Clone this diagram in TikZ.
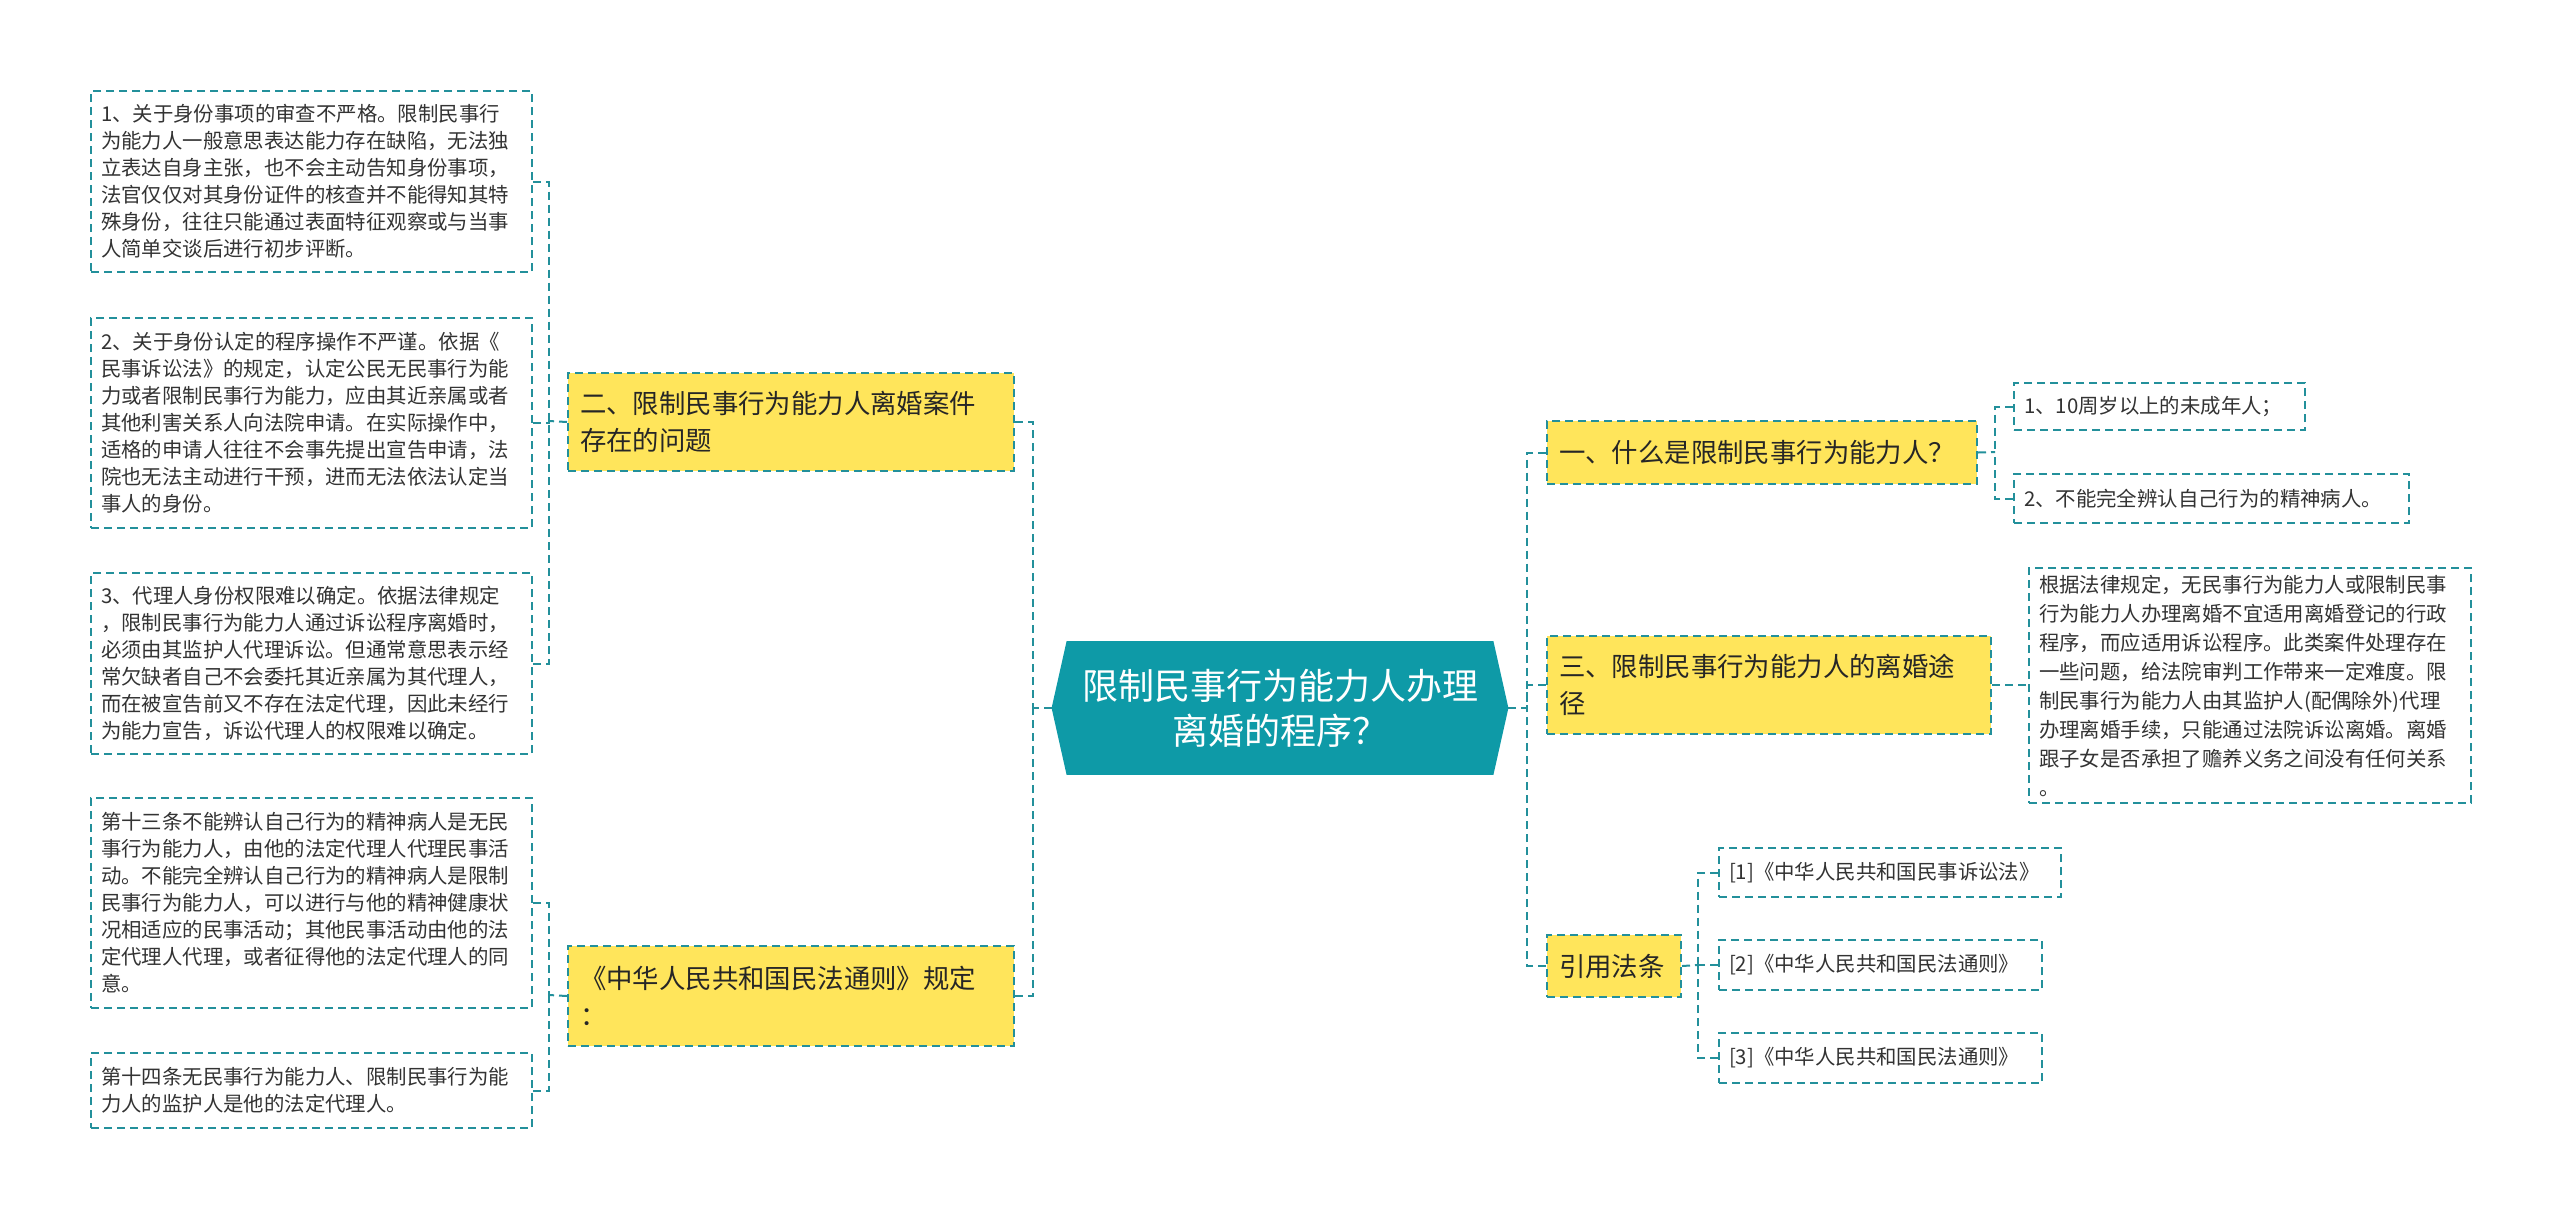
\documentclass[tikz,border=0pt]{standalone}
\usepackage{fontspec}
\setmainfont{Noto Sans CJK SC}
\definecolor{lineC}{HTML}{23909B}
\definecolor{cfill}{HTML}{0E9AA7}
\definecolor{yel}{HTML}{FFE55B}
\definecolor{txt}{HTML}{333333}
\pgfdeclarelayer{bg}
\pgfsetlayers{bg,main}
\begin{document}
\begin{tikzpicture}[x=0.5pt,y=-0.5pt,
  conn/.style={draw=lineC, line width=1pt, dash pattern=on 4pt off 2.5pt},
  leafbox/.style={draw=lineC, line width=1pt, dash pattern=on 4pt off 2.5pt, fill=white,
    anchor=north west, inner xsep=5pt, inner ysep=0pt, align=left, text=txt,
    font=\fontsize{10.2pt}{13.5pt}\selectfont},
  rleaf/.style={leafbox, font=\fontsize{10.2pt}{14.5pt}\selectfont},
  branch/.style={leafbox, fill=yel, inner xsep=6pt, text=black!85,
    font=\fontsize{13.2pt}{18.5pt}\selectfont},
  centertext/.style={draw=none, text=white, align=center, inner sep=0pt,
    minimum width=228pt, minimum height=66.5pt,
    font=\fontsize{18pt}{22.5pt}\selectfont}
]
\useasboundingbox (0,0) rectangle (2560,1217);

% ---------- center ----------
\node[centertext] (C) at (1280,708) {限制民事行为能力人办理\\离婚的程序？};
\begin{pgfonlayer}{bg}
\fill[cfill] (C.west) -- ([xshift=7.5pt]C.north west) -- ([xshift=-7.5pt]C.north east)
  -- (C.east) -- ([xshift=-7.5pt]C.south east) -- ([xshift=7.5pt]C.south west) -- cycle;
\end{pgfonlayer}

% ---------- left side ----------
\node[branch, minimum width=223pt, minimum height=49pt, text width=211pt] (Er) at (567,372)
  {二、限制民事行为能力人离婚案件\\存在的问题};
\node[branch, minimum width=223pt, minimum height=50pt, text width=211pt] (Tong) at (567,945)
  {《中华人民共和国民法通则》规定\\：};

\node[leafbox, minimum width=220.5pt, minimum height=90.5pt, text width=210.5pt] (B1) at (90,90)
  {1、关于身份事项的审查不严格。限制民事行\\为能力人一般意思表达能力存在缺陷，无法独\\立表达自身主张，也不会主动告知身份事项，\\法官仅仅对其身份证件的核查并不能得知其特\\殊身份，往往只能通过表面特征观察或与当事\\人简单交谈后进行初步评断。};
\node[leafbox, minimum width=220.5pt, minimum height=105pt, text width=210.5pt] (B2) at (90,317)
  {2、关于身份认定的程序操作不严谨。依据《\\民事诉讼法》的规定，认定公民无民事行为能\\力或者限制民事行为能力，应由其近亲属或者\\其他利害关系人向法院申请。在实际操作中，\\适格的申请人往往不会事先提出宣告申请，法\\院也无法主动进行干预，进而无法依法认定当\\事人的身份。};
\node[leafbox, minimum width=220.5pt, minimum height=90.5pt, text width=210.5pt] (B3) at (90,572)
  {3、代理人身份权限难以确定。依据法律规定\\，限制民事行为能力人通过诉讼程序离婚时，\\必须由其监护人代理诉讼。但通常意思表示经\\常欠缺者自己不会委托其近亲属为其代理人，\\而在被宣告前又不存在法定代理，因此未经行\\为能力宣告，诉讼代理人的权限难以确定。};
\node[leafbox, minimum width=220.5pt, minimum height=105pt, text width=210.5pt] (B4) at (90,797)
  {第十三条不能辨认自己行为的精神病人是无民\\事行为能力人，由他的法定代理人代理民事活\\动。不能完全辨认自己行为的精神病人是限制\\民事行为能力人，可以进行与他的精神健康状\\况相适应的民事活动；其他民事活动由他的法\\定代理人代理，或者征得他的法定代理人的同\\意。};
\node[leafbox, minimum width=220.5pt, minimum height=37.5pt, text width=210.5pt] (B5) at (90,1052)
  {第十四条无民事行为能力人、限制民事行为能\\力人的监护人是他的法定代理人。};

% ---------- right side ----------
\node[branch, minimum width=215pt, minimum height=31.5pt, text width=203pt] (Yi) at (1546,420)
  {一、什么是限制民事行为能力人？};
\node[branch, minimum width=222pt, minimum height=49pt, text width=210pt] (San) at (1546,635)
  {三、限制民事行为能力人的离婚途\\径};
\node[branch, minimum width=67pt, minimum height=31pt, text width=55pt] (Yin) at (1546,934)
  {引用法条};

\node[leafbox, minimum width=145.5pt, minimum height=23.5pt, text width=135.5pt] (Y1) at (2013,382)
  {1、10周岁以上的未成年人；};
\node[leafbox, minimum width=197.5pt, minimum height=24.5pt, text width=187.5pt] (Y2) at (2013,473)
  {2、不能完全辨认自己行为的精神病人。};
\node[rleaf, minimum width=221pt, minimum height=117.5pt, text width=211pt] (S1) at (2028,567)
  {根据法律规定，无民事行为能力人或限制民事\\行为能力人办理离婚不宜适用离婚登记的行政\\程序，而应适用诉讼程序。此类案件处理存在\\一些问题，给法院审判工作带来一定难度。限\\制民事行为能力人由其监护人(配偶除外)代理\\办理离婚手续，只能通过法院诉讼离婚。离婚\\跟子女是否承担了赡养义务之间没有任何关系\\。};
\node[leafbox, minimum width=171pt, minimum height=24.5pt, text width=161pt] (R1) at (1718,847)
  {[1]《中华人民共和国民事诉讼法》};
\node[leafbox, minimum width=161.5pt, minimum height=25pt, text width=151.5pt] (R2) at (1718,939)
  {[2]《中华人民共和国民法通则》};
\node[leafbox, minimum width=161.5pt, minimum height=25pt, text width=151.5pt] (R3) at (1718,1032)
  {[3]《中华人民共和国民法通则》};

% ---------- junctions ----------
\coordinate (tL) at (1033,708);
\coordinate (tR) at (1527,708);
\coordinate (jEr) at (549,421);
\coordinate (jTong) at (549,995);
\coordinate (jYi) at (1995,452);
\coordinate (jYin) at (1698,965);

% ---------- connectors ----------
\draw[conn] (C.west) -- (tL);
\draw[conn] (Er.east) -| (tL);
\draw[conn] (Tong.east) -| (tL);
\draw[conn] (Er.west) -- (jEr);
\draw[conn] (B1.east) -| (jEr);
\draw[conn] (B2.east) -| (jEr);
\draw[conn] (B3.east) -| (jEr);
\draw[conn] (Tong.west) -- (jTong);
\draw[conn] (B4.east) -| (jTong);
\draw[conn] (B5.east) -| (jTong);

\draw[conn] (C.east) -- (tR);
\draw[conn] (Yi.west) -| (tR);
\draw[conn] (San.west) -| (tR);
\draw[conn] (Yin.west) -| (tR);
\draw[conn] (Yi.east) -- (jYi);
\draw[conn] (Y1.west) -| (jYi);
\draw[conn] (Y2.west) -| (jYi);
\draw[conn] (San.east) -- (San.east -| S1.west);
\draw[conn] (Yin.east) -- (jYin);
\draw[conn] (R1.west) -| (jYin);
\draw[conn] (R2.west) -| (jYin);
\draw[conn] (R3.west) -| (jYin);
\end{tikzpicture}
\end{document}
